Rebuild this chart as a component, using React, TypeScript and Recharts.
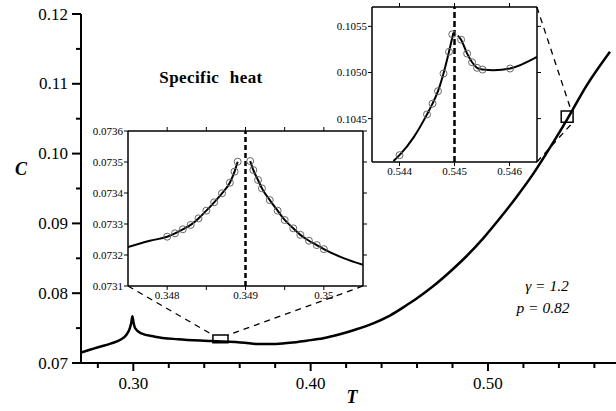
import React from "react";
import { ComposedChart, Line, XAxis, YAxis, ReferenceArea, ReferenceLine } from "recharts";

const SERIF = '"Liberation Serif", "Times New Roman", serif';

// main curve C(T)
const mainT = [
  0.2705, 0.275, 0.2801, 0.2876, 0.2932, 0.296, 0.298, 0.2988, 0.2995, 0.3002, 0.301,
  0.3045, 0.3121, 0.3252, 0.344, 0.3628, 0.37, 0.3789, 0.3883, 0.3978, 0.4071, 0.4165,
  0.4259, 0.4353, 0.4447, 0.4542, 0.4598, 0.4692, 0.4786, 0.488, 0.4973, 0.5067, 0.5162,
  0.5255, 0.5368, 0.5444, 0.5556, 0.5688,
];
const mainC = [
  0.0715, 0.07186, 0.07225, 0.07282, 0.0734, 0.07401, 0.07497, 0.0757, 0.0767, 0.0757, 0.075,
  0.07425, 0.07377, 0.0734, 0.07315, 0.0729, 0.07272, 0.07272, 0.0729, 0.0732, 0.07354, 0.07411,
  0.07483, 0.07569, 0.0768, 0.0783, 0.07925, 0.08103, 0.08308, 0.08533, 0.08786, 0.09073, 0.09383,
  0.0971, 0.1016, 0.1048, 0.10975, 0.1146,
];

const mainXTicks = [0.28, 0.3, 0.32, 0.34, 0.36, 0.38, 0.4, 0.42, 0.44, 0.46, 0.48, 0.5, 0.52, 0.54, 0.56];
const mainYTicks = [0.07, 0.075, 0.08, 0.085, 0.09, 0.095, 0.1, 0.105, 0.11, 0.115, 0.12];

// zoom boxes on the main curve: [T1, T2, C1, C2]
const box1 = [0.3449, 0.3534, 0.0729, 0.074];
const box2 = [0.5413, 0.548, 0.1045, 0.1061];

// dashed guides inset corner -> box corner: [T1, C1, T2, C2]
const guides = [
  [0.297, 0.08103, 0.3449, 0.074],
  [0.4295, 0.08103, 0.3534, 0.074],
  [0.5276, 0.121, 0.547, 0.1061],
  [0.5276, 0.0988, 0.548, 0.1045],
];

// inset 1 (around T = 0.349)
const in1LeftT = [0.3475, 0.34778, 0.348, 0.3481, 0.3482, 0.3483, 0.3484, 0.3485, 0.3486, 0.3487, 0.3488, 0.34886, 0.3489];
const in1LeftC = [0.073226, 0.073246, 0.073259, 0.07327, 0.073283, 0.073297, 0.073318, 0.073343, 0.07337, 0.073399, 0.073433, 0.073469, 0.073501];
const in1RightT = [0.34906, 0.3491, 0.34916, 0.34921, 0.34931, 0.34941, 0.3495, 0.34961, 0.3497, 0.34981, 0.34991, 0.35, 0.35026, 0.3505];
const in1RightC = [0.073503, 0.073474, 0.073442, 0.073415, 0.073377, 0.073343, 0.073313, 0.073286, 0.073265, 0.073246, 0.073232, 0.073219, 0.073189, 0.073168];
const in1DotT = [0.348, 0.3481, 0.3482, 0.3483, 0.3484, 0.3485, 0.3486, 0.3487, 0.3488, 0.34886, 0.3489,
  0.34906, 0.3491, 0.34916, 0.34921, 0.34931, 0.34941, 0.3495, 0.34961, 0.3497, 0.34981, 0.34991, 0.35];
const in1DotC = [0.073259, 0.07327, 0.073283, 0.073297, 0.073318, 0.073343, 0.07337, 0.073399, 0.073433, 0.073469, 0.073501,
  0.073503, 0.073474, 0.073442, 0.073415, 0.073377, 0.073343, 0.073313, 0.073286, 0.073265, 0.073246, 0.073232, 0.073219];
const in1XTicks = [0.348, 0.3485, 0.349, 0.3495, 0.35];
const in1YTicks = [0.0731, 0.0732, 0.0733, 0.0734, 0.0735, 0.0736];

// inset 2 (around T = 0.545)
const in2LeftT = [0.54389, 0.544, 0.54426, 0.5445, 0.5446, 0.5447, 0.5448, 0.5449, 0.54498];
const in2LeftC = [0.10404, 0.104104, 0.1043, 0.104546, 0.104662, 0.104798, 0.104989, 0.105224, 0.10543];
const in2RightT = [0.54506, 0.54512, 0.54523, 0.54532, 0.54541, 0.54551, 0.54571, 0.54601, 0.5465];
const in2RightC = [0.1054, 0.105356, 0.105205, 0.105111, 0.105051, 0.105032, 0.105025, 0.105043, 0.105169];
const in2DotT = [0.544, 0.5445, 0.5446, 0.5447, 0.5448, 0.5449, 0.54496, 0.54512, 0.54523, 0.54532, 0.54541, 0.54551, 0.54601];
const in2DotC = [0.104104, 0.104546, 0.104662, 0.104798, 0.104989, 0.105224, 0.105414, 0.105356, 0.105205, 0.105111, 0.105051, 0.105032, 0.105043];
const in2XTicks = [0.544, 0.545, 0.546];
const in2YTicks = [0.1045, 0.105, 0.1055];

const zip = (T: number[], C: number[]) => T.map((t, i) => ({ T: t, C: C[i] }));

const isMult = (v: number, step: number) => Math.abs(v / step - Math.round(v / step)) < 1e-6;

const MainXTick = (props: any) => {
  const { x, y, payload } = props;
  const major = isMult(payload.value, 0.1);
  const len = major ? 8 : 5;
  return (
    <g>
      <line x1={x} x2={x} y1={y} y2={y + len} stroke="#000" strokeWidth={2} />
      {major && (
        <text x={x} y={y + 26} textAnchor="middle" fontSize={17} fontFamily={SERIF} fill="#000">
          {payload.value.toFixed(2)}
        </text>
      )}
    </g>
  );
};

const MainYTick = (props: any) => {
  const { x, y, payload } = props;
  const major = isMult(payload.value, 0.01);
  const len = major ? 9 : 5;
  return (
    <g>
      <line x1={x - len} x2={x} y1={y} y2={y} stroke="#000" strokeWidth={2} />
      {major && (
        <text x={x - len - 4} y={y + 5.5} textAnchor="end" fontSize={17} fontFamily={SERIF} fill="#000">
          {payload.value.toFixed(2)}
        </text>
      )}
    </g>
  );
};

interface InsetProps {
  left: number;
  top: number;
  width: number;
  height: number;
  xDomain: [number, number];
  yDomain: [number, number];
  xTicks: number[];
  yTicks: number[];
  xFmt: (v: number) => string;
  left_: { T: number; C: number }[];
  right_: { T: number; C: number }[];
  dots: { T: number; C: number }[];
  critical: number;
  dash: string;
}

const frame = { stroke: "#000", strokeWidth: 1.5 };
const tickFont = { fontSize: 11, fontFamily: SERIF, fill: "#000" };

const Inset = (p: InsetProps) => (
  <div style={{ position: "absolute", left: p.left, top: p.top }}>
    <ComposedChart width={p.width} height={p.height} margin={{ top: 5, right: 9, bottom: 0, left: 0 }}>
      <XAxis xAxisId="b" dataKey="T" type="number" domain={p.xDomain} ticks={p.xTicks} interval={0}
        allowDataOverflow height={20} tickSize={4} tickMargin={1} tickFormatter={p.xFmt}
        axisLine={frame} tickLine={{ stroke: "#000" }} tick={tickFont} />
      <XAxis xAxisId="t" orientation="top" dataKey="T" type="number" domain={p.xDomain} ticks={p.xTicks}
        interval={0} allowDataOverflow height={1} tickSize={4} tickMargin={0} tickFormatter={() => ""}
        axisLine={frame} tickLine={{ stroke: "#000" }} />
      <YAxis yAxisId="l" dataKey="C" type="number" domain={p.yDomain} ticks={p.yTicks} interval={0}
        allowDataOverflow width={50} tickSize={4} tickMargin={1} tickFormatter={(v: number) => v.toFixed(4)}
        axisLine={frame} tickLine={{ stroke: "#000" }} tick={tickFont} />
      <YAxis yAxisId="r" orientation="right" dataKey="C" type="number" domain={p.yDomain} ticks={p.yTicks}
        interval={0} allowDataOverflow width={1} tickSize={4} tickMargin={0} tickFormatter={() => ""}
        axisLine={frame} tickLine={{ stroke: "#000" }} />
      <ReferenceLine xAxisId="b" yAxisId="l" x={p.critical} stroke="#000" strokeWidth={2.5} strokeDasharray={p.dash} />
      <Line xAxisId="b" yAxisId="l" data={p.left_} dataKey="C" type="monotone" stroke="#000" strokeWidth={2}
        dot={false} isAnimationActive={false} />
      <Line xAxisId="b" yAxisId="l" data={p.right_} dataKey="C" type="monotone" stroke="#000" strokeWidth={2}
        dot={false} isAnimationActive={false} />
      <Line xAxisId="b" yAxisId="l" data={p.dots} dataKey="C" stroke="none"
        dot={{ r: 3.5, fill: "none", stroke: "#666", strokeWidth: 1 }} isAnimationActive={false} />
    </ComposedChart>
  </div>
);

export default function App() {
  const mainData = zip(mainT, mainC);
  return (
    <div style={{ position: "absolute", left: 0, top: 0, width: 616, height: 411, background: "#fff" }}>
      <ComposedChart width={616} height={411} data={mainData} margin={{ top: 14, right: 0, bottom: 0, left: 0 }}>
        <XAxis dataKey="T" type="number" domain={[0.2705, 0.5722]} ticks={mainXTicks} interval={0}
          allowDataOverflow height={48} tickSize={0} tickMargin={0} tickLine={false}
          axisLine={{ stroke: "#000", strokeWidth: 2 }} tick={(props: any) => <MainXTick {...props} />} />
        <YAxis dataKey="C" type="number" domain={[0.07, 0.12]} ticks={mainYTicks} interval={0}
          allowDataOverflow width={81} tickSize={0} tickMargin={0} tickLine={false}
          axisLine={{ stroke: "#000", strokeWidth: 2 }} tick={(props: any) => <MainYTick {...props} />} />
        {guides.map((g, i) => (
          <ReferenceLine key={i} segment={[{ x: g[0], y: g[1] }, { x: g[2], y: g[3] }]} ifOverflow="visible"
            stroke="#000" strokeWidth={1.3} strokeDasharray="6 5" />
        ))}
        {[box1, box2].map((b, i) => (
          <ReferenceArea key={i} x1={b[0]} x2={b[1]} y1={b[2]} y2={b[3]} ifOverflow="visible"
            fill="none" stroke="#000" strokeWidth={1.5} />
        ))}
        <Line dataKey="C" type="monotone" stroke="#000" strokeWidth={2.5} dot={false} isAnimationActive={false} />
      </ComposedChart>

      <Inset left={78} top={125} width={295} height={181} xDomain={[0.3475, 0.3505]} yDomain={[0.0731, 0.0736]}
        xTicks={in1XTicks} yTicks={in1YTicks}
        xFmt={(v: number) => (isMult(v, 0.001) ? String(Number(v.toFixed(3))) : "")}
        left_={zip(in1LeftT, in1LeftC)} right_={zip(in1RightT, in1RightC)} dots={zip(in1DotT, in1DotC)}
        critical={0.349} dash="5 3" />

      <Inset left={322} top={1} width={225} height={181} xDomain={[0.5435, 0.5465]} yDomain={[0.10403, 0.10571]}
        xTicks={in2XTicks} yTicks={in2YTicks} xFmt={(v: number) => v.toFixed(3)}
        left_={zip(in2LeftT, in2LeftC)} right_={zip(in2RightT, in2RightC)} dots={zip(in2DotT, in2DotC)}
        critical={0.545} dash="6 3" />

      <svg width={616} height={411} style={{ position: "absolute", left: 0, top: 0, pointerEvents: "none" }}>
        <text x={211} y={83} textAnchor="middle" fontSize={17} fontWeight="bold" fontFamily={SERIF}
          letterSpacing={0.4} wordSpacing={6}>Specific heat</text>
        <text x={21} y={175} textAnchor="middle" fontSize={18} fontWeight="bold" fontStyle="italic" fontFamily={SERIF}>C</text>
        <text x={352} y={403} textAnchor="middle" fontSize={18} fontWeight="bold" fontStyle="italic" fontFamily={SERIF}>T</text>
        <text x={547} y={291} textAnchor="middle" fontSize={15.5} fontStyle="italic" fontFamily={SERIF}>γ = 1.2</text>
        <text x={543} y={313} textAnchor="middle" fontSize={15.5} fontStyle="italic" fontFamily={SERIF}>p = 0.82</text>
      </svg>
    </div>
  );
}
